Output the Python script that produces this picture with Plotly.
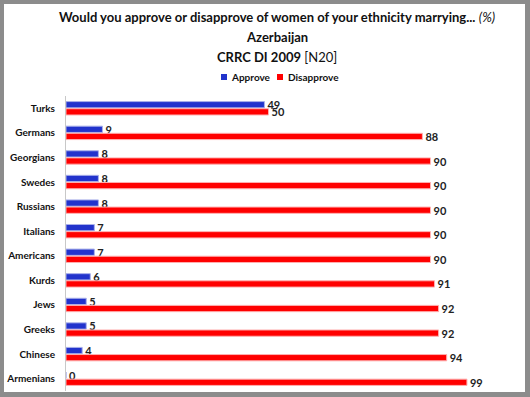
import plotly.graph_objects as go

categories = ["Turks", "Germans", "Georgians", "Swedes", "Russians", "Italians",
              "Americans", "Kurds", "Jews", "Greeks", "Chinese", "Armenians"]
approve = [49, 9, 8, 8, 8, 7, 7, 6, 5, 5, 4, 0]
disapprove = [50, 88, 90, 90, 90, 90, 90, 91, 92, 92, 94, 99]
series_names = ["Approve", "Disapprove"]
series_colors = ["#2233cc", "#ff0000"]
outline_colors = ["#a9b0ea", "#ffb0b0"]

W, H = 530, 397
L, R, T, B = 66, 40, 96, 6
PW, PH = W - L - R, H - T - B
FONT = "Lato"

def px_x(px):
    return (px - L) / PW

def px_y(py):
    return (H - B - py) / PH

fig = go.Figure()
for name, vals, col, oc in zip(series_names, [approve, disapprove], series_colors, outline_colors):
    fig.add_trace(go.Bar(
        y=categories, x=vals, name=name, orientation="h",
        marker=dict(color=col, line=dict(color=oc, width=1)),
        text=vals, textposition="outside", cliponaxis=False, constraintext="none",
        textfont=dict(family=FONT, size=11, color="#222222", weight="bold"),
        showlegend=False,
    ))

title_lines = [
    ("<b>Would you approve or disapprove of women of your ethnicity marrying...</b> <i>(%)</i>", 17),
    ("<b>Azerbaijan</b>", 37),
    ("<b>CRRC DI 2009</b> [N20]", 57),
]
annotations = [
    dict(text=t, xref="paper", yref="paper", x=px_x(277), y=px_y(py),
         xanchor="center", yanchor="middle", showarrow=False,
         font=dict(family=FONT, size=13, color="#111111"))
    for t, py in title_lines
]

# manual legend
legend_items = [(221, 229), (277, 286)]  # square left px, text left px
shapes = [dict(type="rect", xref="paper", yref="paper",
               x0=px_x(4), x1=px_x(525), y0=px_y(392), y1=px_y(4),
               fillcolor="white", line=dict(width=0), layer="below")]
for (sq, tx), name, col in zip(legend_items, series_names, series_colors):
    shapes.append(dict(type="rect", xref="paper", yref="paper",
                       x0=px_x(sq), x1=px_x(sq + 6), y0=px_y(80), y1=px_y(74),
                       fillcolor=col, line=dict(width=0)))
    annotations.append(dict(text=name, xref="paper", yref="paper", x=px_x(tx), y=px_y(77),
                            xanchor="left", yanchor="middle", showarrow=False,
                            font=dict(family=FONT, size=10, color="#111111", weight="bold")))

fig.update_layout(
    width=W, height=H,
    margin=dict(l=L, r=R, t=T, b=B, autoexpand=False),
    paper_bgcolor="#8c8c8c",
    plot_bgcolor="white",
    barmode="group",
    bargap=0.42,
    bargroupgap=0.12,
    showlegend=False,
    annotations=annotations,
    shapes=shapes,
    xaxis=dict(range=[0, PW / 4.05], showgrid=False, showticklabels=False,
               zeroline=False, showline=False, ticks="", automargin=False),
    yaxis=dict(autorange="reversed", showgrid=False, showline=True,
               linecolor="#c8c8c8", linewidth=1, ticks="", automargin=False,
               ticklabelstandoff=8,
               tickfont=dict(family=FONT, size=10, color="#111111", weight="bold")),
)

fig.write_html("out.html", config={"displayModeBar": False},
               post_script="document.body.style.margin='0px';document.body.style.overflow='hidden';")
